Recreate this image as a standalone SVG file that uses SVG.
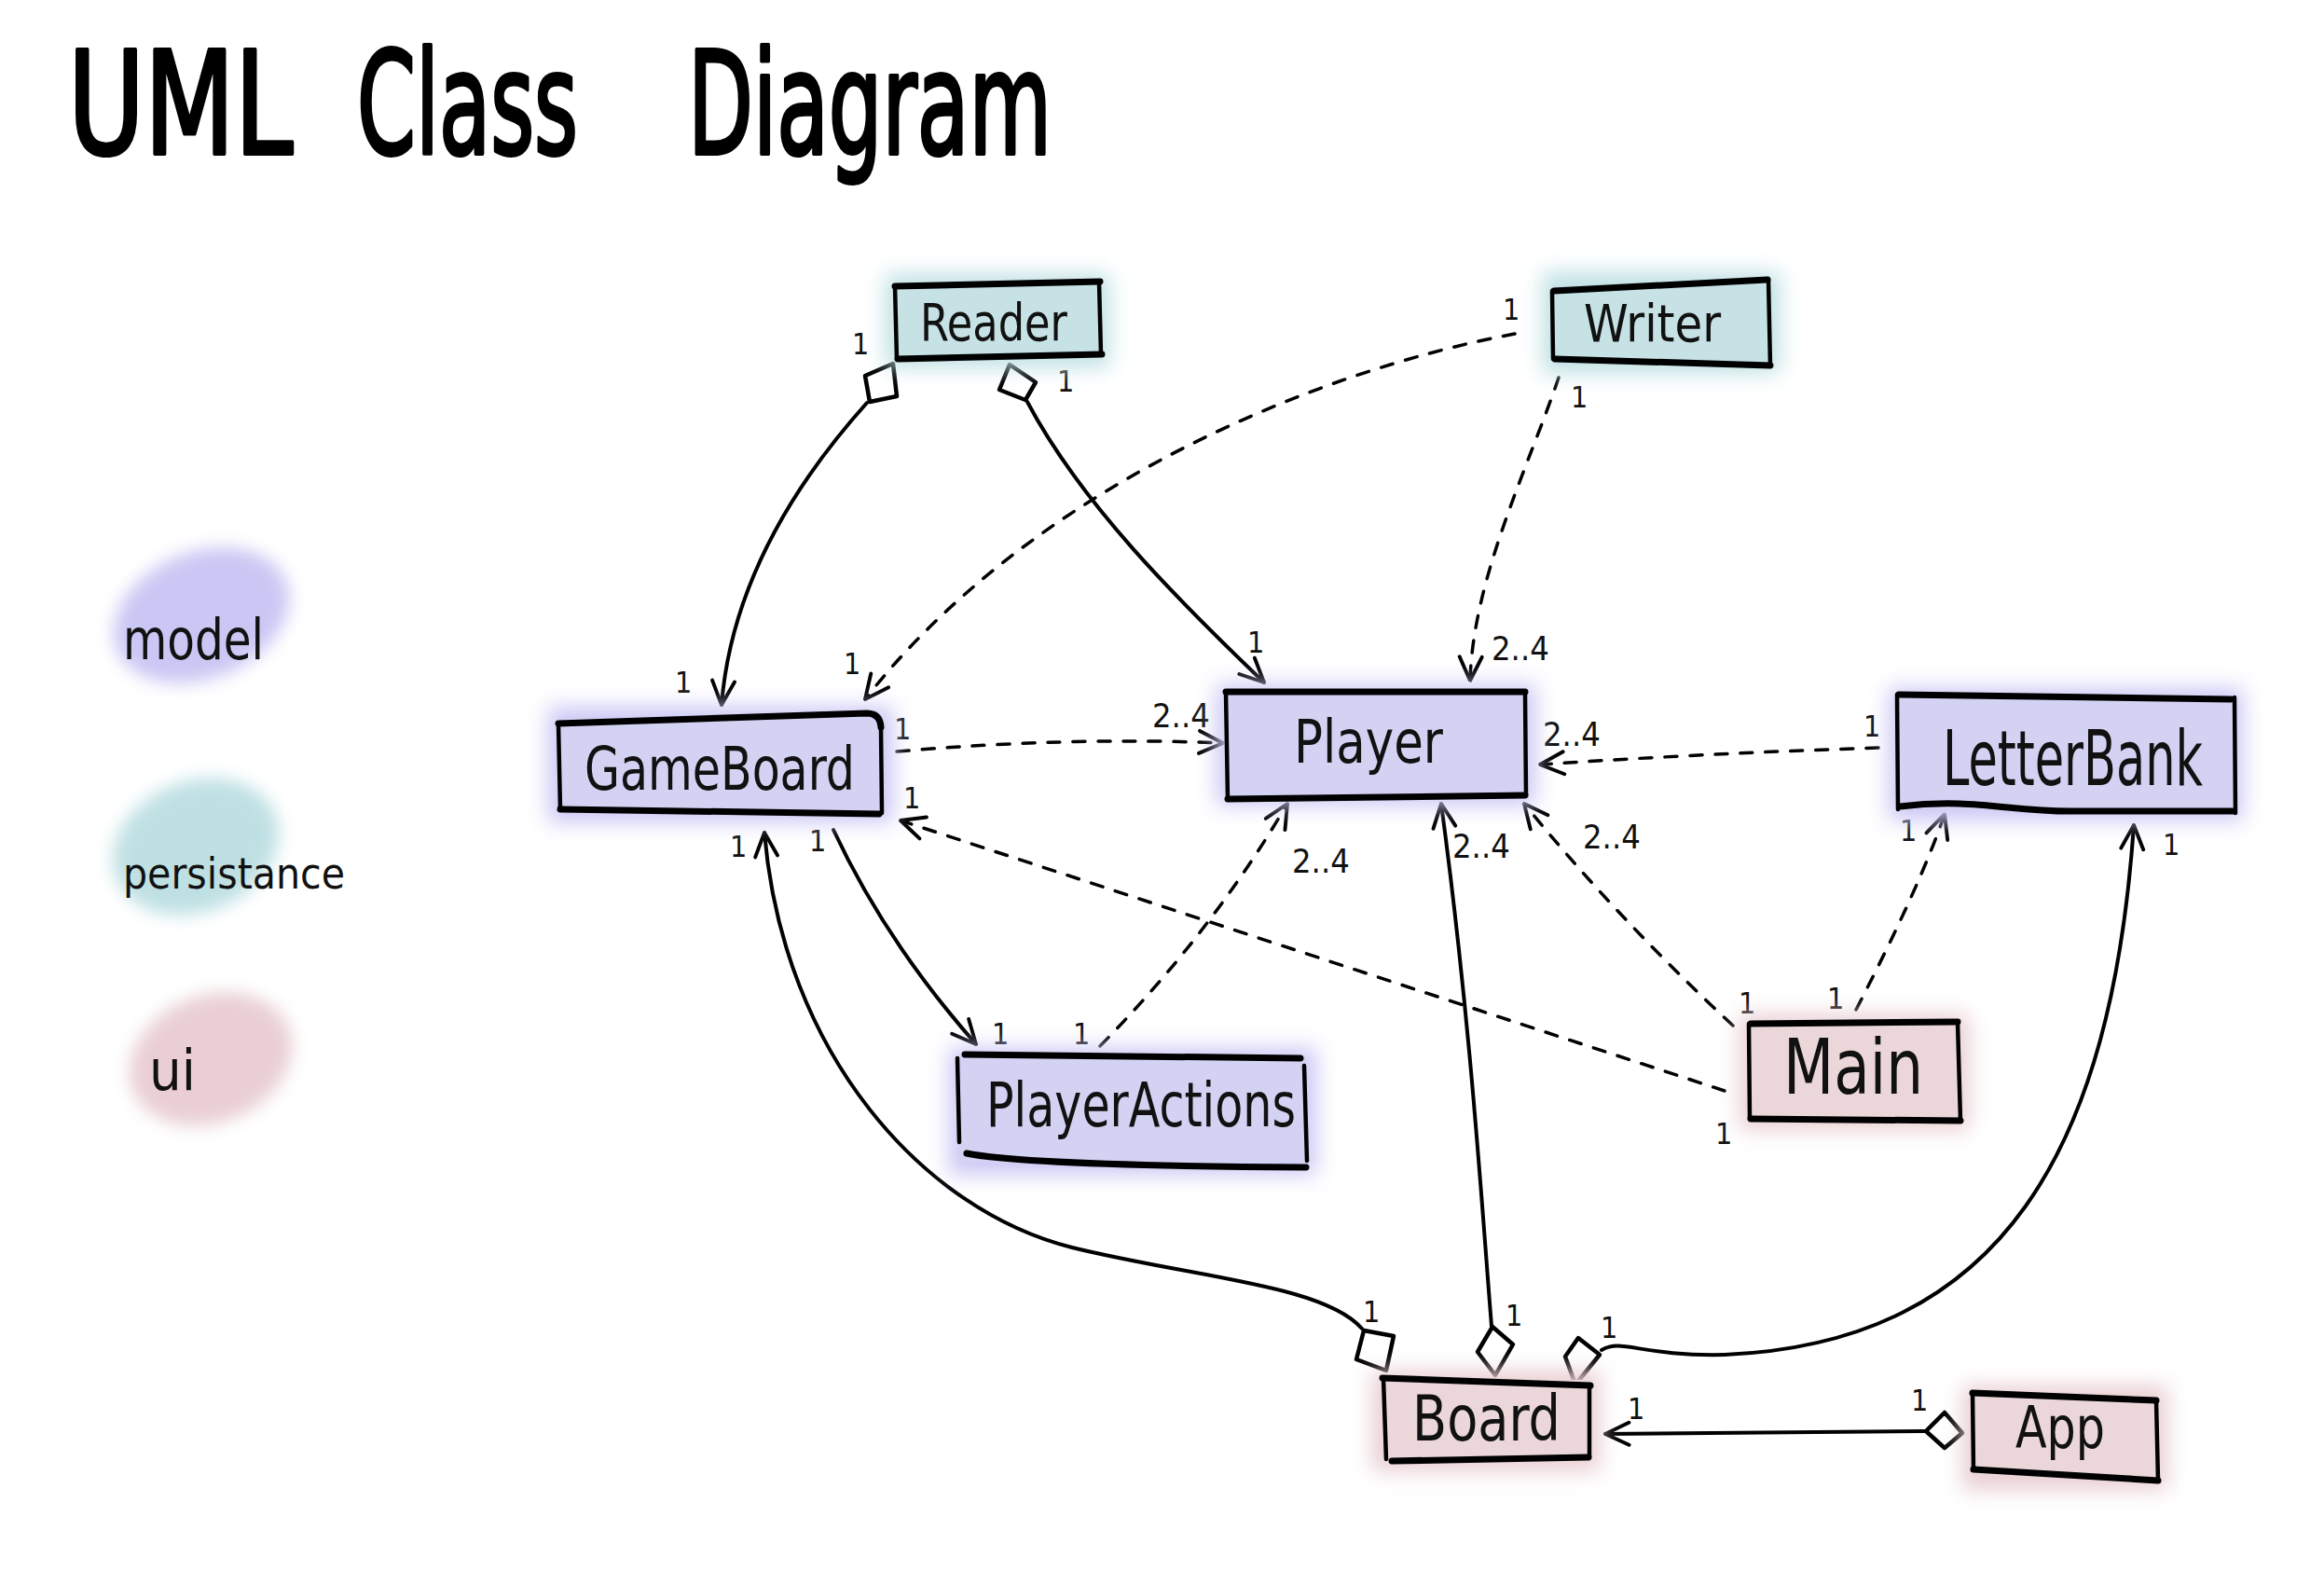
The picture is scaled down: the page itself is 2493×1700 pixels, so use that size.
<svg xmlns="http://www.w3.org/2000/svg" width="2493" height="1700" viewBox="0 0 2493 1700">
<style>
.ttl{font-family:"DejaVu Sans Condensed","Liberation Sans",sans-serif;font-size:130px;fill:#000;stroke:#000;stroke-width:3.5;stroke-linejoin:round}
.lbl{font-family:"DejaVu Sans Condensed","Liberation Sans",sans-serif;fill:#111}
.m{font-family:"DejaVu Sans Condensed","Liberation Sans",sans-serif;font-size:32px;fill:#111}
.m4{font-family:"DejaVu Sans Condensed","Liberation Sans",sans-serif;font-size:36px;fill:#111}
.edge{fill:none;stroke:#000;stroke-linecap:round}
.tb{stroke-width:7}
.sd{stroke-width:4.5}
.con{fill:none;stroke:#000;stroke-width:4;stroke-linecap:round}
.dash{fill:none;stroke:#000;stroke-width:3.5;stroke-dasharray:13 14;stroke-linecap:round}
.dia{fill:#fff;stroke:#000;stroke-width:4.5;stroke-linejoin:round}
.pm{fill:#d4d2f3}.pp{fill:#c6e2e5}.pu{fill:#ebd7da}
.gm{fill:#cbc7f4}.gp{fill:#bfe0e3}.gu{fill:#e9cfd3}
</style>
<defs>
<filter id="glow" x="-30%" y="-40%" width="160%" height="180%"><feGaussianBlur stdDeviation="11"/></filter>
<filter id="blob" x="-30%" y="-30%" width="160%" height="160%"><feGaussianBlur stdDeviation="9"/></filter>
<marker id="arr" viewBox="0 0 20 20" refX="19" refY="10" markerWidth="30" markerHeight="30" markerUnits="userSpaceOnUse" orient="auto">
<path d="M2,2 L19,10 L2,18" fill="none" stroke="#000" stroke-width="2.6" stroke-linecap="round" stroke-linejoin="round"/>
</marker>
</defs>
<rect width="2493" height="1700" fill="#fff"/>

<g id="title">
<text class="ttl" transform="translate(73 165) scale(1 1.18)" textLength="241" lengthAdjust="spacingAndGlyphs">UML</text>
<text class="ttl" transform="translate(383 165) scale(1 1.18)" textLength="237" lengthAdjust="spacingAndGlyphs">Class</text>
<text class="ttl" transform="translate(738 165) scale(1 1.18)" textLength="390" lengthAdjust="spacingAndGlyphs">Diagram</text>
</g>

<g id="legend">
<g id="legend-model">
<ellipse class="gm" cx="216" cy="660" rx="98" ry="68" transform="rotate(-22 216 660)" filter="url(#blob)"/>
<text class="lbl" transform="translate(132 707) scale(1 1.12)" font-size="54" textLength="151" lengthAdjust="spacingAndGlyphs">model</text>
</g>
<g id="legend-persistance">
<ellipse class="gp" cx="210" cy="908" rx="92" ry="70" transform="rotate(-22 210 908)" filter="url(#blob)"/>
<text class="lbl" x="132" y="953" font-size="46" textLength="238" lengthAdjust="spacingAndGlyphs">persistance</text>
</g>
<g id="legend-ui">
<ellipse class="gu" cx="226" cy="1136" rx="90" ry="68" transform="rotate(-22 226 1136)" filter="url(#blob)"/>
<text class="lbl" x="160" y="1169" font-size="60" textLength="50" lengthAdjust="spacingAndGlyphs">ui</text>
</g>
</g>

<g id="connectors">
<!-- Reader -> GameBoard -->
<path class="con" d="M 930 432 C 860 510, 785 620, 774 756" marker-end="url(#arr)"/>
<polygon class="dia" points="958,390 962,425 933,431 928,403"/>
<!-- Reader -> Player -->
<path class="con" d="M 1102 431 C 1160 540, 1260 640, 1356 732" marker-end="url(#arr)"/>
<polygon class="dia" points="1083,391 1111,410 1100,429 1072,418"/>
<!-- Writer -> GameBoard -->
<path class="dash" d="M 1625 358 C 1400 400, 1100 530, 928 750" marker-end="url(#arr)"/>
<!-- Writer -> Player -->
<path class="dash" d="M 1672 405 C 1640 500, 1580 620, 1577 730" marker-end="url(#arr)"/>
<!-- GameBoard -> Player -->
<path class="dash" d="M 962 806 Q 1150 790 1312 797" marker-end="url(#arr)"/>
<!-- LetterBank -> Player -->
<path class="dash" d="M 2015 802 Q 1830 808 1652 820" marker-end="url(#arr)"/>
<!-- Main -> GameBoard -->
<path class="dash" d="M 1850 1170 L 966 880" marker-end="url(#arr)"/>
<!-- Main -> Player -->
<path class="dash" d="M 1859 1100 Q 1735 985 1635 862" marker-end="url(#arr)"/>
<!-- Main -> LetterBank -->
<path class="dash" d="M 1991 1083 Q 2060 950 2086 873" marker-end="url(#arr)"/>
<!-- GameBoard -> PlayerActions -->
<path class="con" d="M 894 890 Q 950 1010 1047 1120" marker-end="url(#arr)"/>
<!-- PlayerActions -> Player -->
<path class="dash" d="M 1180 1122 Q 1300 1000 1381 862" marker-end="url(#arr)"/>
<!-- Board -> GameBoard -->
<path class="con" d="M 1461 1425 C 1420 1378, 1280 1370, 1150 1338 C 990 1298, 840 1130, 820 893" marker-end="url(#arr)"/>
<polygon class="dia" points="1463,1427 1495,1433 1487,1470 1455,1458"/>
<!-- Board -> Player -->
<path class="con" d="M 1600 1422 C 1590 1300, 1578 1100, 1546 862" marker-end="url(#arr)"/>
<polygon class="dia" points="1601,1423 1623,1442 1604,1475 1585,1450"/>
<!-- Board -> LetterBank -->
<path class="con" d="M 1718 1448 C 1740 1435, 1760 1455, 1850 1453 C 2150 1440, 2265 1230, 2289 885" marker-end="url(#arr)"/>
<polygon class="dia" points="1693,1435 1716,1453 1690,1485 1679,1455"/>
<!-- App -> Board -->
<path class="con" d="M 2064 1535 L 1722 1538" marker-end="url(#arr)"/>
<polygon class="dia" points="2066,1535 2086,1515 2105,1537 2086,1553"/>
</g>

<g id="multiplicities">
<text class="m" x="914" y="380">1</text>
<text class="m" x="724" y="743">1</text>
<text class="m" x="1134" y="420">1</text>
<text class="m" x="1338" y="700">1</text>
<text class="m" x="1612" y="343">1</text>
<text class="m" x="905" y="723">1</text>
<text class="m" x="1685" y="437">1</text>
<text class="m4" x="1600" y="708">2..4</text>
<text class="m" x="959" y="793">1</text>
<text class="m4" x="1236" y="780">2..4</text>
<text class="m" x="1999" y="790">1</text>
<text class="m4" x="1655" y="800">2..4</text>
<text class="m" x="969" y="867">1</text>
<text class="m" x="1840" y="1227">1</text>
<text class="m" x="1865" y="1087">1</text>
<text class="m4" x="1698" y="910">2..4</text>
<text class="m" x="1960" y="1082">1</text>
<text class="m" x="2038" y="902">1</text>
<text class="m" x="868" y="913">1</text>
<text class="m" x="1064" y="1120">1</text>
<text class="m" x="1151" y="1120">1</text>
<text class="m4" x="1386" y="936">2..4</text>
<text class="m" x="1462" y="1418">1</text>
<text class="m" x="783" y="919">1</text>
<text class="m" x="1615" y="1422">1</text>
<text class="m4" x="1558" y="920">2..4</text>
<text class="m" x="2320" y="917">1</text>
<text class="m" x="1717" y="1435">1</text>
<text class="m" x="1746" y="1522">1</text>
<text class="m" x="2050" y="1513">1</text>
</g>

<g id="Reader">
<rect class="gp" x="950" y="294" width="240" height="100" filter="url(#glow)"/>
<rect class="pp" x="960" y="305" width="220" height="78"/>
<path class="edge tb" d="M 960 307 L 1180 302 M 963 385 L 1182 380"/>
<path class="edge sd" d="M 960 307 L 962 385 M 1179 302 L 1181 380"/>
<text class="lbl" transform="translate(987 365) scale(1 1.1)" font-size="50" textLength="158" lengthAdjust="spacingAndGlyphs">Reader</text>
</g>

<g id="Writer">
<rect class="gp" x="1655" y="292" width="254" height="108" filter="url(#glow)"/>
<rect class="pp" x="1666" y="305" width="232" height="84"/>
<path class="edge tb" d="M 1667 312 L 1896 300 M 1668 385 L 1899 392"/>
<path class="edge sd" d="M 1665 312 L 1666 385 M 1897 300 L 1899 392"/>
<text class="lbl" transform="translate(1699 366) scale(1 1.05)" font-size="52" textLength="147" lengthAdjust="spacingAndGlyphs">Writer</text>
</g>

<g id="GameBoard">
<rect class="gm" x="588" y="758" width="370" height="124" filter="url(#glow)"/>
<rect class="pm" x="600" y="770" width="346" height="101"/>
<path class="edge tb" d="M 599 776 L 930 765 Q 944 765 945 780 M 601 868 L 943 873"/>
<path class="edge sd" d="M 599 776 L 601 868 M 945 780 L 946 872"/>
<text class="lbl" transform="translate(627 847) scale(1 1.15)" font-size="55" textLength="290" lengthAdjust="spacingAndGlyphs">GameBoard</text>
</g>

<g id="Player">
<rect class="gm" x="1305" y="734" width="342" height="130" filter="url(#glow)"/>
<rect class="pm" x="1316" y="743" width="320" height="112"/>
<path class="edge tb" d="M 1315 742 L 1636 742 M 1317 857 L 1636 853"/>
<path class="edge sd" d="M 1315 742 L 1317 857 M 1636 742 L 1637 853"/>
<text class="lbl" transform="translate(1388 818) scale(1 1.12)" font-size="57" textLength="160" lengthAdjust="spacingAndGlyphs">Player</text>
</g>

<g id="LetterBank">
<rect class="gm" x="2026" y="738" width="380" height="142" filter="url(#glow)"/>
<rect class="pm" x="2036" y="747" width="360" height="122"/>
<path class="edge tb" d="M 2037 745 L 2393 750 M 2038 865 C 2120 855, 2160 872, 2230 870 L 2396 870"/>
<path class="edge sd" d="M 2035 745 L 2036 868 M 2397 748 L 2398 872"/>
<text class="lbl" transform="translate(2084 842) scale(1 1.45)" font-size="56" textLength="279" lengthAdjust="spacingAndGlyphs">LetterBank</text>
</g>

<g id="PlayerActions">
<rect class="gm" x="1018" y="1124" width="394" height="136" filter="url(#glow)"/>
<rect class="pm" x="1029" y="1133" width="372" height="114"/>
<path class="edge tb" d="M 1035 1131 L 1395 1135 M 1037 1237 Q 1100 1250 1401 1252"/>
<path class="edge sd" d="M 1027 1135 L 1029 1225 M 1399 1143 L 1402 1245"/>
<text class="lbl" transform="translate(1058 1208) scale(1 1.22)" font-size="54" textLength="332" lengthAdjust="spacingAndGlyphs">PlayerActions</text>
</g>

<g id="Main">
<rect class="gu" x="1866" y="1088" width="246" height="124" filter="url(#glow)"/>
<rect class="pu" x="1877" y="1098" width="224" height="103"/>
<path class="edge tb" d="M 1878 1098 L 2100 1096 M 1878 1200 L 2103 1202"/>
<path class="edge sd" d="M 1876 1098 L 1877 1200 M 2100 1096 L 2103 1202"/>
<text class="lbl" transform="translate(1913 1173) scale(1 1.18)" font-size="70" textLength="150" lengthAdjust="spacingAndGlyphs">Main</text>
</g>

<g id="Board">
<rect class="gu" x="1472" y="1470" width="244" height="108" filter="url(#glow)"/>
<rect class="pu" x="1484" y="1480" width="221" height="85"/>
<path class="edge tb" d="M 1483 1478 L 1706 1486 M 1493 1567 L 1704 1563"/>
<path class="edge sd" d="M 1484 1478 L 1487 1565 M 1705 1486 L 1705 1563"/>
<text class="lbl" transform="translate(1515 1545) scale(1 1.14)" font-size="60" textLength="159" lengthAdjust="spacingAndGlyphs">Board</text>
</g>

<g id="App">
<rect class="gu" x="2105" y="1486" width="220" height="112" filter="url(#glow)"/>
<rect class="pu" x="2116" y="1497" width="198" height="86"/>
<path class="edge tb" d="M 2116 1494 L 2313 1502 M 2117 1576 L 2315 1588"/>
<path class="edge sd" d="M 2116 1494 L 2117 1576 M 2313 1502 L 2315 1588"/>
<text class="lbl" transform="translate(2162 1553) scale(1 1.12)" font-size="55" textLength="96" lengthAdjust="spacingAndGlyphs">App</text>
</g>
</svg>
